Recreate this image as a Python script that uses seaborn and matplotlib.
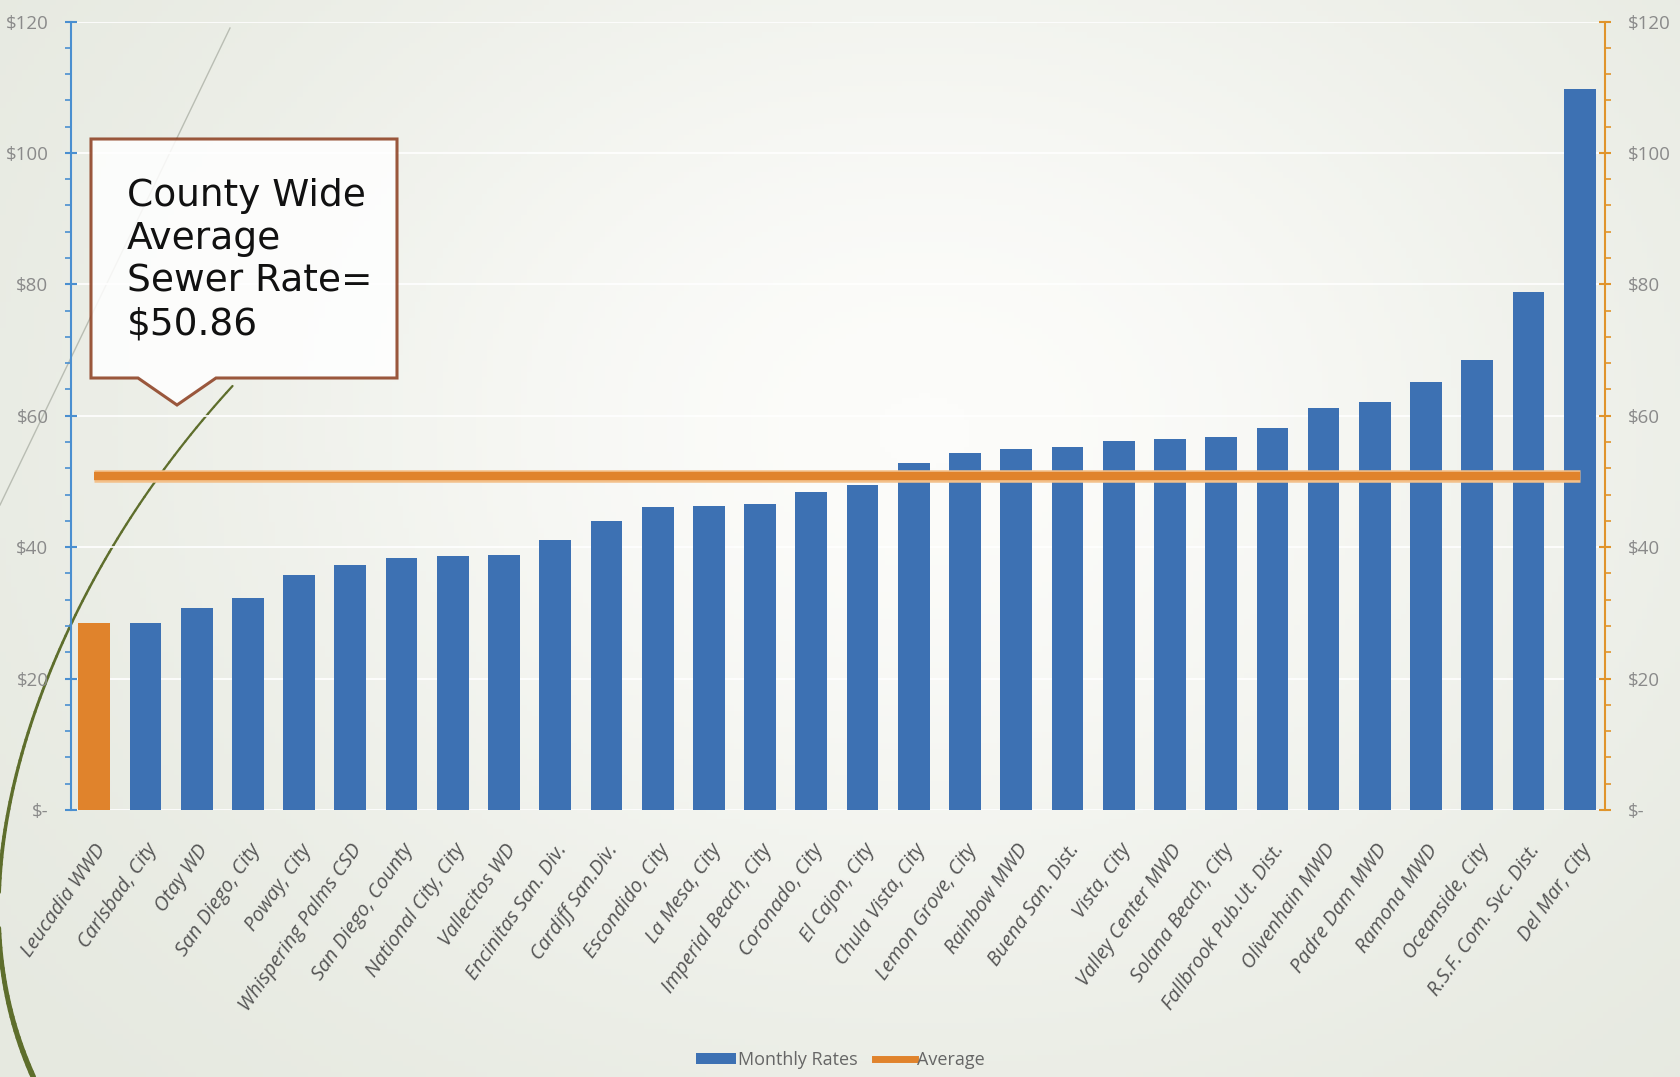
import numpy as np
import matplotlib
matplotlib.use("Agg")
import matplotlib.pyplot as plt
import seaborn as sns
import pandas as pd
from matplotlib.patches import Polygon, Rectangle
from matplotlib.lines import Line2D
from matplotlib.ticker import FuncFormatter, MultipleLocator

categories = ["Leucadia WWD", "Carlsbad, City", "Otay WD", "San Diego, City", "Poway, City",
              "Whispering Palms CSD", "San Diego, County", "National City, City", "Vallecitos WD",
              "Encinitas San. Div.", "Cardiff San.Div.", "Escondido, City", "La Mesa, City",
              "Imperial Beach, City", "Coronado, City", "El Cajon, City", "Chula Vista, City",
              "Lemon Grove, City", "Rainbow MWD", "Buena San. Dist.", "Vista, City",
              "Valley Center MWD", "Solana Beach, City", "Fallbrook Pub.Ut. Dist.", "Olivenhain MWD",
              "Padre Dam MWD", "Ramona MWD", "Oceanside, City", "R.S.F. Com. Svc. Dist.", "Del Mar, City"]
monthly_rates = [28.5, 28.5, 30.7, 32.3, 35.7, 37.3, 38.3, 38.6, 38.8, 41.1,
                 44.0, 46.1, 46.3, 46.6, 48.4, 49.4, 52.8, 54.3, 54.9, 55.3,
                 56.1, 56.4, 56.7, 58.2, 61.1, 62.1, 65.2, 68.5, 78.9, 109.7]
average_rate = 50.86
highlight = "Leucadia WWD"
yticks = [0, 20, 40, 60, 80, 100, 120]

BLUE = "#3d71b3"
ORANGE = "#e0832c"
BG = "#e6e9e0"

df = pd.DataFrame({"agency": categories, "rate": monthly_rates})
palette = {c: (ORANGE if c == highlight else BLUE) for c in categories}

W, H = 1681, 1077
fig = plt.figure(figsize=(16.81, 10.77), dpi=100)
fig.patch.set_facecolor(BG)

# soft white glow in the middle of the background
bgax = fig.add_axes([0, 0, 1, 1], zorder=-10)
yy, xx = np.mgrid[0:1:200j, 0:1:300j]
glow = np.exp(-(((xx - 0.55) / 0.45) ** 2 + ((yy - 0.4) / 0.55) ** 2))
bgax.imshow(glow, cmap=matplotlib.colors.LinearSegmentedColormap.from_list("g", [BG, "#fcfcfa"]),
            extent=[0, W, H, 0], aspect="auto")
# decorative curve (pixel coordinates, y downward): smooth fit x = f(y)
cy_pts = np.array([386, 470, 550, 623, 677, 783, 850, 900, 927, 1000, 1077])
cx_pts = np.array([232, 165, 110, 72, 45, 18, 4, -4, -3, 10, 33])
coef = np.polyfit(cy_pts, cx_pts, 4)
ys = np.linspace(386, 1077, 300)
xs = np.polyval(coef, ys)
for i in range(0, 299, 3):
    lw = 1.6 + 2.4 * ((ys[i] - 386) / (1077 - 386)) ** 2
    bgax.plot(xs[i:i + 4], ys[i:i + 4], color="#5e6e2c", lw=lw, solid_capstyle="round")
bgax.plot([230, 0], [28, 505], color="#b9bdb3", lw=1.0)
bgax.set_xlim(0, W); bgax.set_ylim(H, 0); bgax.axis("off")

ax = fig.add_axes([0.042, 0.248, 0.913, 0.732])
ax.set_facecolor("none")
sns.barplot(data=df, x="agency", y="rate", hue="agency", palette=palette, legend=False,
            width=0.62, ax=ax, zorder=3, saturation=1)
n = len(categories)
ax.plot(np.arange(n), [average_rate] * n, color="#f3c08a", lw=9, solid_capstyle="butt", zorder=4)
ax.plot(np.arange(n), [average_rate] * n, color=ORANGE, lw=6, solid_capstyle="butt", zorder=5)

ax.set_xlim(-0.46, n - 0.5)
ax.set_ylim(0, 120)
ax.set_yticks(yticks)
ax.yaxis.set_minor_locator(MultipleLocator(4))
fmt = FuncFormatter(lambda v, p: "$-" if v == 0 else f"${int(v)}")
ax.yaxis.set_major_formatter(fmt)
ax.grid(axis="y", color="#ffffff", lw=1.2, zorder=0)
ax.set_axisbelow(True)
for s in ["top", "right", "bottom"]:
    ax.spines[s].set_visible(False)
ax.spines["left"].set_color("#4a8fd0")
ax.spines["left"].set_linewidth(1.5)
ax.tick_params(axis="y", which="major", length=8, width=1.5, color="#4a8fd0",
               labelsize=13.5, labelcolor="#8a8a8a", direction="inout", pad=12)
ax.tick_params(axis="y", which="minor", length=4, width=1.2, color="#4a8fd0", direction="out")
ax.tick_params(axis="x", length=0, pad=22)
ax.set_xlabel(""); ax.set_ylabel("")
ax.set_xticks(range(n))
ax.set_xticklabels(categories, rotation=55, ha="right", rotation_mode="anchor",
                   fontsize=14.5, style="italic", color="#555555", family="Open Sans")
for lab in ax.get_yticklabels():
    lab.set_family("Open Sans")

ax2 = ax.twinx()
ax2.set_ylim(0, 120)
ax2.set_yticks(yticks)
ax2.yaxis.set_minor_locator(MultipleLocator(4))
ax2.yaxis.set_major_formatter(fmt)
for s in ["top", "left", "bottom"]:
    ax2.spines[s].set_visible(False)
ax2.spines["right"].set_color("#e0942c")
ax2.spines["right"].set_linewidth(1.5)
ax2.tick_params(axis="y", which="major", length=8, width=1.5, color="#e0942c",
                labelsize=13.5, labelcolor="#8a8a8a", direction="inout", pad=12)
ax2.tick_params(axis="y", which="minor", length=4, width=1.2, color="#e0942c", direction="out")
for lab in ax2.get_yticklabels():
    lab.set_family("Open Sans")

# callout box (figure pixel coordinates of the full-size image)
def fp(x, y):
    return (x / W, 1 - y / H)
box = [fp(91, 139), fp(397, 139), fp(397, 378), fp(216, 378), fp(177, 405), fp(138, 378), fp(91, 378)]
fig.patches.append(Polygon(box, closed=True, transform=fig.transFigure, facecolor="#ffffff",
                           alpha=0.85, edgecolor="#8a3b1c", lw=2.2, zorder=20))
fig.text(127 / W, 1 - 178 / H, "County Wide\nAverage\nSewer Rate=\n$50.86", ha="left", va="top",
         fontsize=27, family="DejaVu Sans", color="#111111", linespacing=1.25, zorder=21)

# legend
handles = [Rectangle((0, 0), 1, 1, facecolor=BLUE, edgecolor="none"),
           Line2D([0], [0], color=ORANGE, lw=5)]
leg = fig.legend(handles, ["Monthly Rates", "Average"], loc="center", bbox_to_anchor=(0.5, 0.016),
                 ncol=2, frameon=False, handlelength=2.2, handleheight=0.6, handletextpad=0.1,
                 columnspacing=1.0, prop={"family": "Open Sans", "size": 13})
for t_ in leg.get_texts():
    t_.set_color("#666666")

fig.savefig("out.png", dpi=100, facecolor=fig.get_facecolor())
